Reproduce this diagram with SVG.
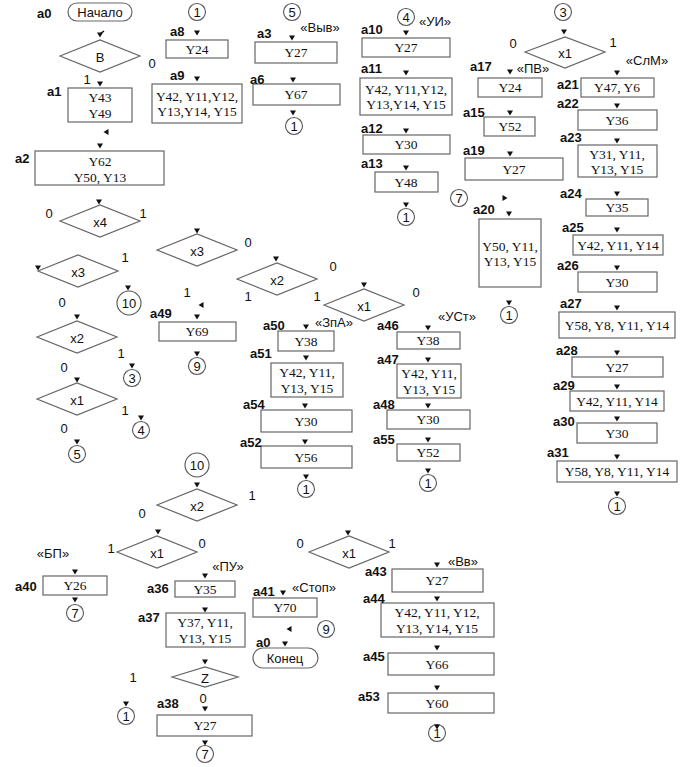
<svg xmlns="http://www.w3.org/2000/svg" xmlns:xlink="http://www.w3.org/1999/xlink" width="680" height="767" viewBox="0 0 680 767">
<style>
.b{fill:#fff;stroke:#666;stroke-width:1.2}
.d{fill:#fff;stroke:#666;stroke-width:1.2}
.c{fill:#fff;stroke:#555;stroke-width:1.1}
.t{font-family:"Liberation Serif",serif;font-size:13.5px;fill:#111;text-anchor:middle;dominant-baseline:central}
.s{font-family:"Liberation Sans",Arial,sans-serif;font-size:13px;fill:#111;text-anchor:middle;dominant-baseline:central}
.l{font-family:"Liberation Sans",Arial,sans-serif;font-size:13px;font-weight:bold;fill:#111;dominant-baseline:central}
</style>
<defs>
<polygon id="ad" points="-3,-2.5 3,-2.5 0,2.5" fill="#111"/>
<polygon id="al" points="2.5,-3 2.5,3 -2.5,0" fill="#111"/>
<polygon id="ar" points="-2.5,-3 -2.5,3 2.5,0" fill="#111"/>
</defs>
<rect width="680" height="767" fill="#fff"/>

<g id="start"><rect class="b" x="68" y="3" width="64" height="18" rx="9"/><text class="s" x="100" y="12">Начало</text><text class="l" x="37" y="13">a0</text></g>
<g id="dB"><polygon class="d" points="60,56 100,40 140,56 100,72"/><text class="s" x="100" y="57">B</text><text class="s" x="152" y="63">0</text><text class="s" x="87" y="79">1</text></g>
<g id="a1"><rect class="b" x="68" y="88" width="64" height="34"/><text class="t" x="100" y="97">Y43</text><text class="t" x="100" y="113">Y49</text><text class="l" x="47" y="91">a1</text></g>
<g id="a2"><rect class="b" x="35" y="151" width="129" height="34"/><text class="t" x="100" y="161">Y62</text><text class="t" x="100" y="177">Y50, Y13</text><text class="l" x="15" y="158">a2</text></g>

<g id="c1a"><circle class="c" cx="197" cy="12" r="8.5"/><text class="s" x="197" y="12">1</text></g>
<g id="a8"><rect class="b" x="166" y="40" width="62" height="18"/><text class="t" x="197" y="49">Y24</text><text class="l" x="170" y="31">a8</text></g>
<g id="a9"><rect class="b" x="152" y="84" width="90" height="39"/><text class="t" x="197" y="96">Y42, Y11,Y12,</text><text class="t" x="197" y="111">Y13,Y14, Y15</text><text class="l" x="170" y="75">a9</text></g>

<g id="c5a"><circle class="c" cx="292" cy="12" r="8.5"/><text class="s" x="292" y="12">5</text><text class="s" x="320" y="27">«Выв»</text></g>
<g id="a3"><rect class="b" x="255" y="42" width="82" height="21"/><text class="t" x="296" y="52.5">Y27</text><text class="l" x="257" y="33">a3</text></g>
<g id="a6"><rect class="b" x="253" y="84" width="87" height="21"/><text class="t" x="296" y="94.5">Y67</text><text class="l" x="250" y="79">a6</text></g>
<g id="c1b"><circle class="c" cx="294" cy="126" r="8.5"/><text class="s" x="294" y="126">1</text></g>

<g id="c4a"><circle class="c" cx="406" cy="17" r="8.5"/><text class="s" x="406" y="17">4</text><text class="s" x="435" y="21">«УИ»</text></g>
<g id="a10"><rect class="b" x="362" y="38" width="88" height="19"/><text class="t" x="406" y="47.5">Y27</text><text class="l" x="361" y="29">a10</text></g>
<g id="a11"><rect class="b" x="360" y="78" width="92" height="37"/><text class="t" x="406" y="89">Y42, Y11,Y12,</text><text class="t" x="406" y="104">Y13,Y14, Y15</text><text class="l" x="361" y="68">a11</text></g>
<g id="a12"><rect class="b" x="363" y="135" width="87" height="19"/><text class="t" x="406" y="144.5">Y30</text><text class="l" x="361" y="128">a12</text></g>
<g id="a13"><rect class="b" x="375" y="172" width="63" height="20"/><text class="t" x="406" y="182">Y48</text><text class="l" x="361" y="163">a13</text></g>
<g id="c1c"><circle class="c" cx="406" cy="217" r="8.5"/><text class="s" x="406" y="217">1</text></g>

<g id="c3a"><circle class="c" cx="563" cy="12" r="8.5"/><text class="s" x="563" y="12">3</text></g>
<g id="dx1a"><polygon class="d" points="525,52 565,37 605,52 565,68"/><text class="s" x="565" y="53">x1</text><text class="s" x="513" y="43">0</text><text class="s" x="613" y="42">1</text></g>
<g id="a17"><rect class="b" x="478" y="78" width="64" height="19"/><text class="t" x="510" y="87.5">Y24</text><text class="l" x="470" y="66">a17</text><text class="s" x="533" y="68">«ПВ»</text></g>
<g id="a15"><rect class="b" x="484" y="117" width="51" height="19"/><text class="t" x="510" y="126.5">Y52</text><text class="l" x="463" y="112">a15</text></g>
<g id="a19"><rect class="b" x="465" y="158" width="98" height="22"/><text class="t" x="514" y="169">Y27</text><text class="l" x="463" y="150">a19</text></g>
<g id="c7a"><circle class="c" cx="459" cy="198" r="8.5"/><text class="s" x="459" y="198">7</text></g>
<g id="a20"><rect class="b" x="479" y="219" width="62" height="68"/><text class="t" x="510" y="246">Y50, Y11,</text><text class="t" x="510" y="261">Y13, Y15</text><text class="l" x="473" y="209">a20</text></g>
<g id="c1d"><circle class="c" cx="509" cy="315" r="8.5"/><text class="s" x="509" y="315">1</text></g>

<g id="a21"><rect class="b" x="581" y="78" width="73" height="19"/><text class="t" x="617" y="87.5">Y47, Y6</text><text class="l" x="557" y="84">a21</text><text class="s" x="647" y="60">«СлМ»</text></g>
<g id="a22"><rect class="b" x="578" y="110" width="79" height="20"/><text class="t" x="617" y="120">Y36</text><text class="l" x="557" y="103">a22</text></g>
<g id="a23"><rect class="b" x="578" y="145" width="79" height="32"/><text class="t" x="617" y="154">Y31, Y11,</text><text class="t" x="617" y="169">Y13, Y15</text><text class="l" x="560" y="137">a23</text></g>
<g id="a24"><rect class="b" x="586" y="199" width="62" height="17"/><text class="t" x="617" y="207.5">Y35</text><text class="l" x="560" y="193">a24</text></g>
<g id="a25"><rect class="b" x="573" y="235" width="90" height="20"/><text class="t" x="618" y="245">Y42, Y11, Y14</text><text class="l" x="562" y="227">a25</text></g>
<g id="a26"><rect class="b" x="578" y="272" width="79" height="20"/><text class="t" x="617" y="282">Y30</text><text class="l" x="557" y="265">a26</text></g>
<g id="a27"><rect class="b" x="559" y="312" width="116" height="26"/><text class="t" x="617" y="325">Y58, Y8, Y11, Y14</text><text class="l" x="560" y="303">a27</text></g>
<g id="a28"><rect class="b" x="572" y="357" width="91" height="20"/><text class="t" x="617" y="367">Y27</text><text class="l" x="556" y="350">a28</text></g>
<g id="a29"><rect class="b" x="570" y="391" width="94" height="20"/><text class="t" x="617" y="401">Y42, Y11, Y14</text><text class="l" x="553" y="385">a29</text></g>
<g id="a30"><rect class="b" x="577" y="423" width="80" height="20"/><text class="t" x="617" y="433">Y30</text><text class="l" x="553" y="421">a30</text></g>
<g id="a31"><rect class="b" x="557" y="461" width="120" height="21"/><text class="t" x="617" y="471.5">Y58, Y8, Y11, Y14</text><text class="l" x="547" y="452">a31</text></g>
<g id="c1e"><circle class="c" cx="617" cy="506" r="8.5"/><text class="s" x="617" y="506">1</text></g>

<g id="dx4"><polygon class="d" points="60,221 100,205 140,221 100,237"/><text class="s" x="100" y="222">x4</text><text class="s" x="49" y="213">0</text><text class="s" x="143" y="213">1</text></g>
<g id="dx3a"><polygon class="d" points="38,271 78,255 118,271 78,287"/><text class="s" x="78" y="272">x3</text><text class="s" x="125" y="257">1</text><text class="s" x="62" y="302">0</text></g>
<g id="c10a"><circle class="c" cx="129" cy="303" r="12"/><text class="s" x="129" y="303">10</text></g>
<g id="dx2a"><polygon class="d" points="37,337 77,321 117,337 77,353"/><text class="s" x="77" y="338">x2</text><text class="s" x="121" y="353">1</text><text class="s" x="64" y="367">0</text></g>
<g id="c3b"><circle class="c" cx="132" cy="378" r="8.5"/><text class="s" x="132" y="378">3</text></g>
<g id="dx1b"><polygon class="d" points="37,399 77,383 117,399 77,415"/><text class="s" x="77" y="400">x1</text><text class="s" x="125" y="410">1</text><text class="s" x="64" y="428">0</text></g>
<g id="c4b"><circle class="c" cx="141" cy="430" r="8.5"/><text class="s" x="141" y="430">4</text></g>
<g id="c5b"><circle class="c" cx="77" cy="454" r="8.5"/><text class="s" x="77" y="454">5</text></g>

<g id="dx3b"><polygon class="d" points="157,250 197,234 237,250 197,266"/><text class="s" x="197" y="251">x3</text><text class="s" x="248" y="242">0</text><text class="s" x="187" y="292">1</text></g>
<g id="a49"><rect class="b" x="159" y="322" width="77" height="19"/><text class="t" x="197" y="331.5">Y69</text><text class="l" x="150" y="313">a49</text></g>
<g id="c9a"><circle class="c" cx="197" cy="366" r="8.5"/><text class="s" x="197" y="366">9</text></g>
<g id="dx2b"><polygon class="d" points="237,279 277,263 317,279 277,295"/><text class="s" x="277" y="280">x2</text><text class="s" x="333" y="266">0</text><text class="s" x="248" y="296">1</text><text class="s" x="317" y="296">1</text></g>
<g id="dx1c"><polygon class="d" points="324,305 364,289 404,305 364,321"/><text class="s" x="364" y="306">x1</text><text class="s" x="416" y="292">0</text></g>
<g id="a50"><rect class="b" x="278" y="331" width="56" height="20"/><text class="t" x="306" y="341">Y38</text><text class="l" x="263" y="325">a50</text><text class="s" x="334" y="322">«ЗпА»</text></g>
<g id="a51"><rect class="b" x="271" y="363" width="72" height="34"/><text class="t" x="307" y="372.5">Y42, Y11,</text><text class="t" x="307" y="388">Y13, Y15</text><text class="l" x="250" y="353">a51</text></g>
<g id="a54"><rect class="b" x="261" y="410" width="91" height="22"/><text class="t" x="306" y="421">Y30</text><text class="l" x="243" y="404">a54</text></g>
<g id="a52"><rect class="b" x="261" y="446" width="91" height="22"/><text class="t" x="306" y="457">Y56</text><text class="l" x="240" y="442">a52</text></g>
<g id="c1f"><circle class="c" cx="306" cy="489" r="8.5"/><text class="s" x="306" y="489">1</text></g>
<g id="a46"><rect class="b" x="397" y="332" width="63" height="17"/><text class="t" x="428" y="340.5">Y38</text><text class="l" x="377" y="325">a46</text><text class="s" x="457" y="316">«УСт»</text></g>
<g id="a47"><rect class="b" x="397" y="364" width="64" height="34"/><text class="t" x="429" y="373.5">Y42, Y11,</text><text class="t" x="429" y="389">Y13, Y15</text><text class="l" x="377" y="359">a47</text></g>
<g id="a48"><rect class="b" x="387" y="410" width="83" height="19"/><text class="t" x="428" y="419.5">Y30</text><text class="l" x="373" y="404">a48</text></g>
<g id="a55"><rect class="b" x="397" y="444" width="63" height="17"/><text class="t" x="428" y="452.5">Y52</text><text class="l" x="373" y="439">a55</text></g>
<g id="c1g"><circle class="c" cx="428" cy="483" r="8.5"/><text class="s" x="428" y="483">1</text></g>

<g id="c10b"><circle class="c" cx="197" cy="465" r="12"/><text class="s" x="197" y="465">10</text></g>
<g id="dx2c"><polygon class="d" points="157,505 197,489 237,505 197,521"/><text class="s" x="197" y="506">x2</text><text class="s" x="252" y="495">1</text><text class="s" x="142" y="513">0</text></g>
<g id="dx1d"><polygon class="d" points="117,552 157,536 197,552 157,568"/><text class="s" x="157" y="553">x1</text><text class="s" x="111" y="548">1</text><text class="s" x="202" y="543">0</text></g>
<g id="a40"><rect class="b" x="43" y="576" width="64" height="19"/><text class="t" x="75" y="585.5">Y26</text><text class="l" x="15" y="586">a40</text><text class="s" x="53" y="553">«БП»</text></g>
<g id="c7b"><circle class="c" cx="75" cy="613" r="8.5"/><text class="s" x="75" y="613">7</text></g>
<g id="a36"><rect class="b" x="175" y="581" width="60" height="16"/><text class="t" x="205" y="589">Y35</text><text class="l" x="147" y="588">a36</text><text class="s" x="228" y="566">«ПУ»</text></g>
<g id="a37"><rect class="b" x="166" y="613" width="79" height="34"/><text class="t" x="205" y="622.5">Y37, Y11,</text><text class="t" x="205" y="638">Y13, Y15</text><text class="l" x="138" y="617">a37</text></g>
<g id="dZ"><polygon class="d" points="172,677 205,667 238,677 205,687"/><text class="s" x="205" y="678">Z</text><text class="s" x="133" y="677">1</text><text class="s" x="203" y="698">0</text></g>
<g id="c1h"><circle class="c" cx="126" cy="716" r="8.5"/><text class="s" x="126" y="716">1</text></g>
<g id="a38"><rect class="b" x="157" y="715" width="95" height="21"/><text class="t" x="205" y="725.5">Y27</text><text class="l" x="157" y="703">a38</text></g>
<g id="c7c"><circle class="c" cx="205" cy="754" r="8.5"/><text class="s" x="205" y="754">7</text></g>

<g id="dx1e"><polygon class="d" points="309,552 349,536 389,552 349,568"/><text class="s" x="349" y="553">x1</text><text class="s" x="300" y="543">0</text><text class="s" x="392" y="543">1</text></g>
<g id="a41"><rect class="b" x="253" y="598" width="64" height="19"/><text class="t" x="285" y="607.5">Y70</text><text class="l" x="253" y="591">a41</text><text class="s" x="314" y="587">«Стоп»</text></g>
<g id="c9b"><circle class="c" cx="326" cy="629" r="8.5"/><text class="s" x="326" y="629">9</text></g>
<g id="end"><rect class="b" x="253" y="648" width="65" height="20" rx="10"/><text class="s" x="285" y="658">Конец</text><text class="l" x="256" y="642">a0</text></g>
<g id="a43"><rect class="b" x="392" y="569" width="91" height="23"/><text class="t" x="437" y="580.5">Y27</text><text class="l" x="365" y="571">a43</text><text class="s" x="463" y="561">«Вв»</text></g>
<g id="a44"><rect class="b" x="381" y="603" width="113" height="34"/><text class="t" x="437" y="612.5">Y42, Y11, Y12,</text><text class="t" x="437" y="628">Y13, Y14, Y15</text><text class="l" x="363" y="598">a44</text></g>
<g id="a45"><rect class="b" x="388" y="653" width="106" height="22"/><text class="t" x="437" y="664">Y66</text><text class="l" x="363" y="656">a45</text></g>
<g id="a53"><rect class="b" x="388" y="693" width="106" height="20"/><text class="t" x="437" y="703">Y60</text><text class="l" x="358" y="696">a53</text></g>
<g id="c1i"><circle class="c" cx="437" cy="733" r="8.5"/><text class="s" x="437" y="733">1</text></g>

<g id="connectors">
<path d="M100,34 L104,31" stroke="#111" stroke-width="1.5" fill="none"/>
<use href="#ad" x="100" y="35"/><use href="#ad" x="100" y="84"/><use href="#al" x="106" y="132"/><use href="#ad" x="100" y="146"/>
<use href="#ad" x="197" y="33"/><use href="#ad" x="197" y="79"/>
<use href="#ad" x="292" y="38"/><use href="#ad" x="293" y="80"/><use href="#ad" x="293" y="113"/>
<use href="#ad" x="406" y="33"/><use href="#ad" x="406" y="73"/><use href="#ad" x="406" y="131"/><use href="#ad" x="406" y="168"/><use href="#ad" x="406" y="205"/>
<use href="#ad" x="564" y="32"/><use href="#ad" x="510" y="72"/><use href="#ad" x="617" y="73"/><use href="#ad" x="510" y="113"/><use href="#ad" x="617" y="106"/><use href="#ad" x="510" y="154"/><use href="#ad" x="617" y="141"/>
<use href="#ar" x="505" y="198"/><use href="#ad" x="509" y="214"/><use href="#ad" x="617" y="194"/><use href="#ad" x="617" y="230"/><use href="#ad" x="617" y="268"/><use href="#ad" x="509" y="303"/>
<use href="#ad" x="617" y="308"/><use href="#ad" x="617" y="353"/><use href="#ad" x="617" y="387"/><use href="#ad" x="617" y="419"/><use href="#ad" x="617" y="457"/><use href="#ad" x="617" y="494"/>
<use href="#ad" x="99" y="202"/><use href="#ad" x="38" y="268"/><use href="#ad" x="128" y="288"/><use href="#ad" x="77" y="317"/><use href="#ad" x="132" y="366"/><use href="#ad" x="77" y="380"/><use href="#ad" x="141" y="418"/><use href="#ad" x="77" y="442"/>
<use href="#ad" x="197" y="231"/><use href="#al" x="201" y="305"/><use href="#ad" x="197" y="317"/><use href="#ad" x="197" y="354"/>
<use href="#ad" x="276" y="259"/><use href="#ad" x="364" y="285"/><use href="#ad" x="306" y="327"/><use href="#ad" x="306" y="358"/><use href="#ad" x="305" y="406"/><use href="#ad" x="305" y="442"/><use href="#ad" x="306" y="477"/>
<use href="#ad" x="428" y="328"/><use href="#ad" x="428" y="360"/><use href="#ad" x="428" y="406"/><use href="#ad" x="428" y="440"/><use href="#ad" x="428" y="471"/>
<use href="#ad" x="197" y="485"/><use href="#ad" x="158" y="532"/><use href="#ad" x="75" y="572"/><use href="#ad" x="75" y="600"/><use href="#ad" x="205" y="576"/><use href="#ad" x="205" y="610"/><use href="#ad" x="205" y="662"/><use href="#ad" x="205" y="709"/><use href="#ad" x="205" y="743"/><use href="#ad" x="126" y="704"/>
<use href="#ad" x="348" y="533"/><use href="#ad" x="437" y="565"/><use href="#ad" x="437" y="599"/><use href="#ad" x="283" y="593"/><use href="#al" x="289" y="629"/><use href="#ad" x="285" y="644"/><use href="#ad" x="437" y="648"/><use href="#ad" x="437" y="688"/><use href="#ad" x="437" y="727"/>
</g>
</svg>
